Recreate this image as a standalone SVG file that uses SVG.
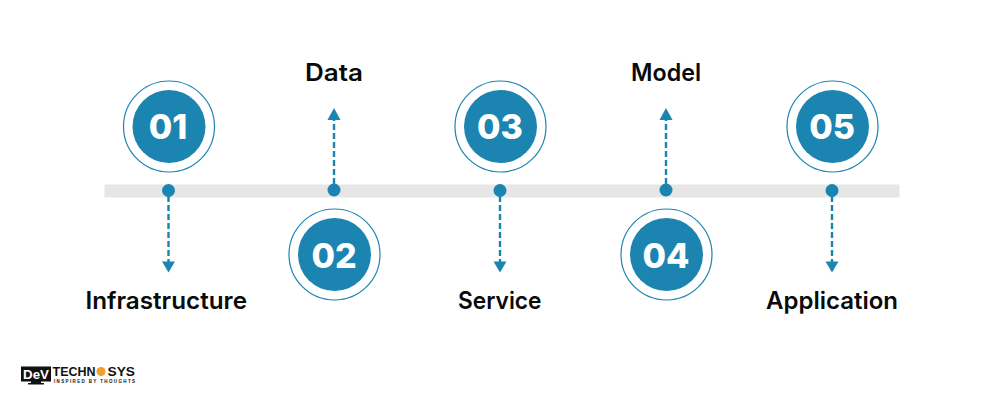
<svg xmlns="http://www.w3.org/2000/svg" width="1000" height="400" viewBox="0 0 1000 400">
<style>
.ring{fill:#fff;stroke:#1c84b0;stroke-width:1.2}
.disc{fill:#1c84b0}
.num{font:800 34px Inter,"Open Sans","Liberation Sans",sans-serif;fill:#fff;text-anchor:middle}
.lbl{font:600 24px Inter,"Open Sans","Liberation Sans",sans-serif;fill:#0a0a0a}
.dash{stroke:#1c84b0;stroke-width:2.4;stroke-dasharray:6 3;fill:none}
.tip{fill:#1c84b0}
.lg{font-family:"Liberation Sans",sans-serif;font-weight:700;fill:#111}
</style>
<rect x="104.500" y="184.500" width="795" height="13" fill="#e6e6e6"/>
<g id="connectors">
<path class="dash" d="M168.500 196V262"/><path class="tip" d="M162 261.500h13l-6.500 11z"/>
<path class="dash" d="M334 184V118"/><path class="tip" d="M327.500 120h13l-6.500-12z"/>
<path class="dash" d="M500 196V262"/><path class="tip" d="M493.500 261.500h13l-6.500 11z"/>
<path class="dash" d="M666 184V118"/><path class="tip" d="M659.500 120h13l-6.500-12z"/>
<path class="dash" d="M832 196V262"/><path class="tip" d="M825.500 261.500h13l-6.500 11z"/>
<g class="disc"><circle cx="168.500" cy="190.500" r="6.500"/><circle cx="334" cy="190" r="6.500"/><circle cx="500" cy="190.500" r="6.500"/><circle cx="666" cy="190" r="6.500"/><circle cx="832" cy="190.500" r="6.500"/></g>
</g>
<g id="n1"><circle class="ring" cx="169" cy="126.500" r="45.500"/><circle class="disc" cx="169" cy="126.500" r="36.500"/><text class="num" x="168" y="139">01</text><text class="lbl" x="85.500" y="308.500" textLength="161.500" lengthAdjust="spacingAndGlyphs">Infrastructure</text></g>
<g id="n2"><circle class="ring" cx="334.500" cy="254.500" r="45.500"/><circle class="disc" cx="334.500" cy="254.500" r="36.500"/><text class="num" x="334" y="268">02</text><text class="lbl" x="305" y="80.500" textLength="58" lengthAdjust="spacingAndGlyphs">Data</text></g>
<g id="n3"><circle class="ring" cx="500.500" cy="126.500" r="45.500"/><circle class="disc" cx="500.500" cy="126.500" r="36.500"/><text class="num" x="500" y="139">03</text><text class="lbl" x="458" y="308.500" textLength="83.500" lengthAdjust="spacingAndGlyphs">Service</text></g>
<g id="n4"><circle class="ring" cx="666.500" cy="254.500" r="45.500"/><circle class="disc" cx="666.500" cy="254.500" r="36.500"/><text class="num" x="666" y="268">04</text><text class="lbl" x="631" y="80.500" textLength="70" lengthAdjust="spacingAndGlyphs">Model</text></g>
<g id="n5"><circle class="ring" cx="832.500" cy="126.500" r="45.500"/><circle class="disc" cx="832.500" cy="126.500" r="36.500"/><text class="num" x="832" y="139">05</text><text class="lbl" x="766" y="308.500" textLength="132" lengthAdjust="spacingAndGlyphs">Application</text></g>
<g id="logo">
<rect x="21" y="366.500" width="30" height="15" fill="#111"/>
<path d="M31 381h10v2h3v1.500H28V383h3z" fill="#111"/>
<text class="lg" x="23" y="379" font-size="13" style="fill:#fff" textLength="26" lengthAdjust="spacingAndGlyphs">DeV</text>
<text class="lg" x="52.500" y="376" font-size="13" textLength="43" lengthAdjust="spacingAndGlyphs">TECHN</text>
<circle cx="101" cy="371.500" r="4.500" fill="#f0a030"/>
<text class="lg" x="107.500" y="376" font-size="13" textLength="27.500" lengthAdjust="spacingAndGlyphs">SYS</text>
<text class="lg" x="54" y="382.500" font-size="4.500" textLength="81" lengthAdjust="spacing">INSPIRED BY THOUGHTS</text>
</g>
</svg>
